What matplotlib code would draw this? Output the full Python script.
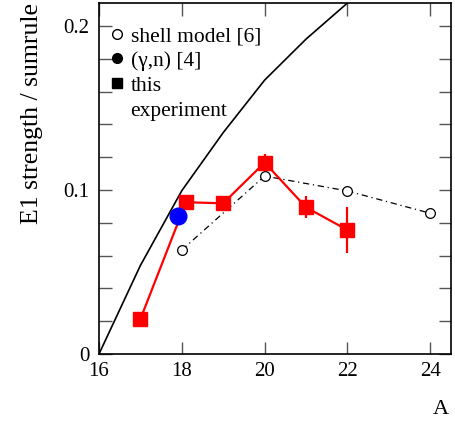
import matplotlib
matplotlib.use("Agg")
import matplotlib.pyplot as plt
from matplotlib.lines import Line2D
from matplotlib.ticker import MultipleLocator

plt.rcParams['font.family'] = ['Liberation Serif', 'DejaVu Serif']
plt.rcParams['mathtext.fontset'] = 'stix'

# sum-rule / systematics line
line_A = [16, 17, 18, 19, 20, 21, 22]
line_val = [0.0, 0.054, 0.0996, 0.135, 0.167, 0.192, 0.214]

# shell model [6]
shell_A = [18, 20, 22, 24]
shell_val = [0.0634, 0.1085, 0.0994, 0.0858]

# (gamma,n) [4]
gn_A = [17.9]
gn_val = [0.0843]

# this experiment
exp_A = [17, 18.1, 19, 20, 21, 22]
exp_val = [0.0213, 0.0925, 0.0919, 0.1167, 0.0894, 0.0756]
exp_err = [0.003, 0.004, 0.0045, 0.005, 0.0067, 0.014]

xticks = [16, 18, 20, 22, 24]
yticks = [0, 0.1, 0.2]
ytick_labels = ["0", "0.1", "0.2"]
legend_labels = ["shell model [6]", "(γ,n) [4]", "this", "experiment"]

fig = plt.figure(figsize=(4.55, 4.23), dpi=100)
ax = fig.add_axes([99/455, 1-354/423, 352/455, 351/423])

ax.plot(line_A, line_val, color='black', lw=1.2, zorder=2)
ax.plot(shell_A, shell_val, color='black', lw=0.9, ls=(0, (5, 3, 1, 3)),
        marker='o', mfc='white', mec='black', ms=7, mew=0.9, zorder=3)
ax.errorbar(exp_A, exp_val, yerr=exp_err, color='red', lw=1.6, elinewidth=1.6,
            marker='s', ms=9.5, mfc='red', mec='red', capsize=0, zorder=4)
ax.plot(gn_A, gn_val, 'o', color='blue', ms=12, zorder=5)

ax.set_xlim(16, 24.5)
ax.set_ylim(0, 0.214)
ax.set_xticks(xticks)
ax.set_yticks(yticks)
ax.set_yticklabels(ytick_labels)
ax.yaxis.set_minor_locator(MultipleLocator(0.02))
ax.tick_params(which='both', direction='in', length=9, width=1, color='#555555',
               top=True, right=True, labelsize=15)
ax.tick_params(axis='x', pad=6)
ax.tick_params(axis='y', pad=7)
for s in ax.spines.values():
    s.set_linewidth(1.2)

ax.set_ylabel("E1 strength / sumrule", fontsize=18.5)
ax.yaxis.set_label_coords(-0.16, 0.685)
ax.set_xlabel("A", fontsize=16)
ax.xaxis.set_label_coords(0.97, -0.13)

handles = [
    Line2D([], [], ls='none', marker='o', mfc='white', mec='black', ms=7, mew=1),
    Line2D([], [], ls='none', marker='o', color='black', ms=7),
    Line2D([], [], ls='none', marker='s', color='black', ms=7),
    Line2D([], [], ls='none', marker=None),
]
ax.legend(handles, legend_labels, loc='upper left', bbox_to_anchor=(-0.005, 0.968),
          frameon=False, fontsize=15.5, handlelength=0.7, handletextpad=0.3,
          labelspacing=0.22, borderaxespad=0.15)

fig.savefig("out.png", dpi=100)
